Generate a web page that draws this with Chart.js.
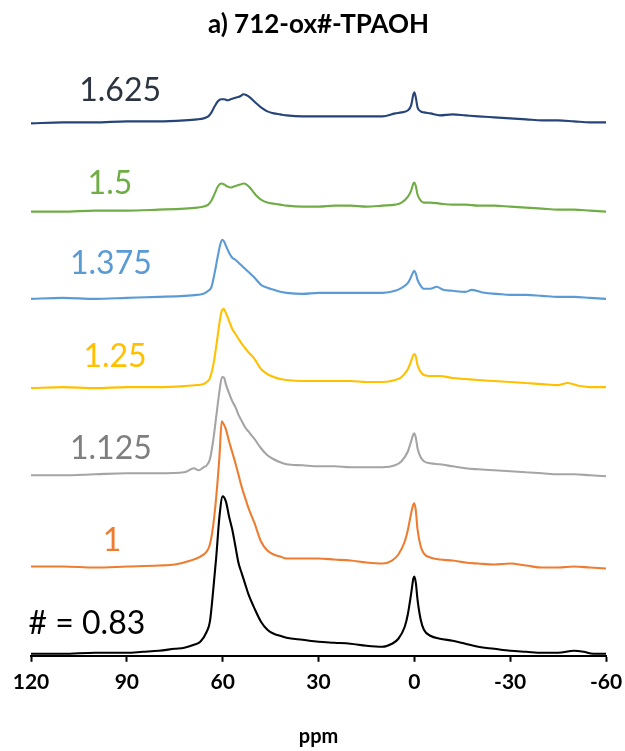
<!DOCTYPE html>
<html>
<head>
<meta charset="utf-8">
<script src="https://cdn.jsdelivr.net/npm/chart.js@4.4.1/dist/chart.umd.min.js"></script>
<style>
  html, body { margin: 0; padding: 0; background: #ffffff; }
  #wrap { width: 625px; height: 751px; }
</style>
</head>
<body>
<div id="wrap"><canvas id="c" width="625" height="751"></canvas></div>
<script>
// ---- data (chemical shift in ppm, stacked intensity in arbitrary units) ----
const ppm083 = [120,110,100,90,85,80,75,72,69,67,65,64,63,62,61,60,59,58,57,56,55,54,53,52,50,48,46,44,42,40,35,30,25,20,15,10,7,5,3,2,1,0.3,0,-0.5,-1,-2,-3,-5,-8,-12,-16,-20,-25,-30,-35,-40,-45,-50,-53,-56,-60];
const int083 = [2,2,3,3,4,5,7,8,11,14,24,34,64,99,139,159,154,139,126,109,92,82,72,62,47,34,26,22,20,18,16,14,13,12,10,9,12,17,29,42,62,77,79,72,56,36,26,20,17,15,12,9,7,5,4,3,3,5,4,2,2];

const ppm1 = [120,110,100,90,80,75,70,67,65,64,63,62,61,60.3,60,59,58,57,56,55,54,53,52,50,48,46,44,42,40,35,30,25,20,15,10,7,5,3,2,1,0.3,0,-0.5,-1,-2,-3,-5,-8,-12,-16,-20,-25,-30,-35,-40,-45,-50,-55,-60];
const int1 = [89,89,88,89,90,91,95,99,104,111,129,159,199,234,233,226,214,203,192,180,168,158,148,132,114,105,101,99,97,97,97,96,95,93,92,95,101,114,126,142,151,152,144,126,109,102,98,96,95,93,92,91,92,90,88,88,89,88,87];

const ppm1125 = [120,110,100,90,80,72,69,67.5,66,65,64,63,62,61,60.2,59.5,59,58,57,56,55,54,53,52,50,48,46,44,42,40,35,30,25,20,15,10,6,4,2,1,0.3,0,-0.5,-1,-2,-3,-5,-8,-12,-16,-20,-25,-30,-35,-40,-45,-50,-55,-60];
const int1125 = [180,180,181,182,182,183,187,185,188,190,196,214,239,264,278,277,271,262,254,248,240,234,228,224,216,207,200,196,193,191,190,189,189,188,188,188,190,194,204,214,221,222,217,207,198,194,192,191,189,187,186,185,184,183,182,181,181,180,179];

const ppm125 = [120,110,100,90,80,72,68,66,65,64,63,62,61,60.3,59.7,59,58,57,56,55,54,53,52,50,48,46,44,42,40,35,30,25,20,15,10,6,4,2,1,0.3,0,-0.5,-1,-2,-3,-5,-8,-12,-16,-20,-25,-30,-35,-40,-45,-48,-52,-55,-60];
const int125 = [267,268,267,268,268,269,270,271,273,277,289,309,332,344,346,342,334,326,321,316,311,307,303,296,286,281,278,276,275,274,274,274,274,273,273,275,278,286,294,300,301,298,290,283,280,279,279,277,276,275,274,273,272,271,270,272,269,268,268];

const ppm1375 = [120,110,100,90,80,72,68,66,64.5,63.5,62.5,61.5,60.7,60.1,59.5,59,58,57,56,55,54,53,52,50,48,46,44,42,40,35,30,25,20,15,10,6,4,2,1,0.3,0,-0.5,-1,-2,-3,-5,-7,-9,-12,-16,-18,-22,-26,-30,-35,-40,-45,-50,-55,-60];
const int1375 = [356,357,356,357,358,359,360,361,364,368,382,399,411,415,413,409,402,397,395,392,389,386,383,377,370,367,365,363,362,361,362,362,362,362,362,364,367,372,378,383,384,381,375,369,366,366,368,365,364,363,365,362,361,360,360,359,358,358,357,356];

const ppm15 = [120,110,100,90,80,72,68,66,64.5,63.5,62.5,61.5,60.5,59.5,58.5,57.5,56.5,55.5,54.5,53.5,52.5,51.5,50.5,49.5,48,46,44,42,40,35,30,25,20,15,10,6,4,2,1,0.3,0,-0.5,-1,-2,-3,-5,-8,-12,-16,-20,-25,-30,-35,-40,-45,-50,-55,-60];
const int15 = [443,443,444,444,445,446,447,448,450,454,461,468,471,470,468,467,468,469,470,471,470,467,463,459,455,452,451,450,449,448,448,449,449,448,449,450,452,458,464,471,472,468,460,454,452,452,451,450,450,449,449,448,447,446,445,445,444,443];

const ppm1625 = [120,110,100,90,80,72,68,66,64.5,63.5,62.5,61.5,60.5,59.5,58.5,57.5,56.5,55.5,54.5,53.5,52.5,51.5,50.5,49.5,48,46,44,42,40,35,30,25,20,15,10,6,4,2,1,0.3,0,-0.5,-1,-2,-3,-5,-8,-12,-16,-20,-25,-30,-35,-40,-45,-50,-55,-60];
const int1625 = [531,532,532,533,533,534,535,536,538,542,548,553,555,555,554,555,556,557,558,560,559,557,554,551,547,543,541,540,539,538,538,538,538,538,538,541,542,544,549,560,562,556,547,543,542,541,539,540,539,538,537,536,535,534,534,533,532,532];

const seriesNames = ['# = 0.83', '1', '1.125', '1.25', '1.375', '1.5', '1.625'];
const seriesPpm = [ppm083, ppm1, ppm1125, ppm125, ppm1375, ppm15, ppm1625];
const seriesInt = [int083, int1, int1125, int125, int1375, int15, int1625];
const xTicks = [120, 90, 60, 30, 0, -30, -60];

// ---- styles ----
const lineColors = ['#000000', '#ed7d31', '#a5a5a5', '#ffc000', '#5b9bd5', '#70ad47', '#264478'];
const textColors = ['#000000', '#ed7d31', '#7f7f7f', '#ffc000', '#5b9bd5', '#70ad47', '#2b3440'];
// label anchor in data coordinates [ppm, intensity]
const labelAnchors = [[102.5, 32], [94.6, 115], [95.0, 207], [93.7, 298], [95.0, 391], [95.3, 471], [92.1, 564]];

const datasets = seriesNames.map((name, i) => ({
  label: name,
  data: seriesPpm[i].map((p, k) => ({ x: p, y: seriesInt[i][k] })),
  borderColor: lineColors[i],
  backgroundColor: lineColors[i],
  borderWidth: 2.1,
  pointRadius: 0,
  cubicInterpolationMode: 'monotone',
  fill: false
}));

const seriesLabelPlugin = {
  id: 'seriesLabels',
  afterDatasetsDraw(chart) {
    const { ctx, scales } = chart;
    ctx.save();
    ctx.font = '32px Lato';
    ctx.textAlign = 'center';
    ctx.textBaseline = 'middle';
    seriesNames.forEach((name, i) => {
      const px = scales.x.getPixelForValue(labelAnchors[i][0]);
      const py = scales.y.getPixelForValue(labelAnchors[i][1]);
      ctx.fillStyle = textColors[i];
      ctx.fillText(name, px, py);
    });
    ctx.restore();
  }
};

new Chart(document.getElementById('c'), {
  type: 'line',
  data: { datasets },
  plugins: [seriesLabelPlugin],
  options: {
    responsive: false,
    animation: false,
    layout: { padding: { left: 31, right: 19, top: 0, bottom: 0 } },
    plugins: {
      legend: { display: false },
      tooltip: { enabled: false },
      title: {
        display: true,
        text: 'a) 712-ox#-TPAOH',
        color: '#000000',
        font: { family: 'Lato', size: 26, weight: 'bold' },
        padding: { top: 9, bottom: 14 }
      }
    },
    scales: {
      x: {
        type: 'linear',
        reverse: true,
        min: -60,
        max: 120,
        afterBuildTicks(scale) { scale.ticks = xTicks.map(v => ({ value: v })); },
        afterFit(scale) { scale.paddingLeft = 0; scale.paddingRight = 0; },
        ticks: {
          color: '#000000',
          font: { family: 'Lato', size: 21, weight: 'bold' },
          padding: 8,
          maxRotation: 0
        },
        grid: {
          display: true,
          drawOnChartArea: false,
          drawTicks: true,
          tickLength: 6,
          tickWidth: 2,
          tickColor: '#000000'
        },
        border: { display: true, color: '#000000', width: 2 },
        title: {
          display: true,
          text: 'ppm',
          color: '#000000',
          font: { family: 'Lato', size: 20, weight: 'bold' },
          padding: { top: 22, bottom: 2 }
        }
      },
      y: {
        display: false,
        min: 0,
        max: 600
      }
    }
  }
});
</script>
</body>
</html>
